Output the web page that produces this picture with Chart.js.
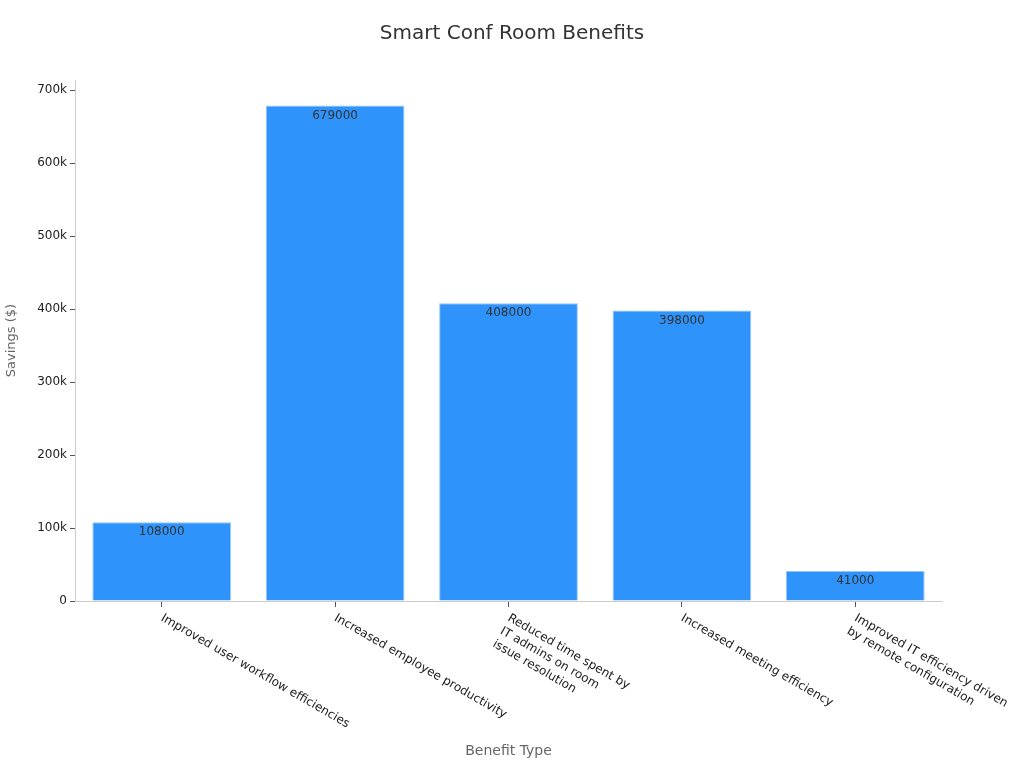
<!DOCTYPE html>
<html>
<head>
<meta charset="utf-8">
<script src="https://cdn.jsdelivr.net/npm/chart.js@4/dist/chart.umd.min.js"></script>
<style>
  html, body { margin: 0; padding: 0; background: #fff; }
  #wrap { width: 1024px; height: 768px; }
</style>
</head>
<body>
<div id="wrap"><canvas id="chart" width="1024" height="768"></canvas></div>
<script>
// Benefit categories (multi-line labels as arrays)
const categories = [
    ['Improved user workflow efficiencies'],
    ['Increased employee productivity'],
    ['Reduced time spent by', 'IT admins on room', 'issue resolution'],
    ['Increased meeting efficiency'],
    ['Improved IT efficiency driven', 'by remote configuration']
];
const savings = [108000, 679000, 408000, 398000, 41000];
const yTicks = [0, 100000, 200000, 300000, 400000, 500000, 600000, 700000];
const yMax = 714000;

const FONT = 'DejaVu Sans';
const TITLE = 'Smart Conf Room Benefits';

// chart title centred on the whole canvas
const canvasTitle = {
    id: 'canvasTitle',
    afterDraw(chart) {
        const ctx = chart.ctx;
        ctx.save();
        ctx.font = '20px "' + FONT + '"';
        ctx.fillStyle = '#333';
        ctx.textAlign = 'center';
        ctx.textBaseline = 'middle';
        ctx.fillText(TITLE, chart.width / 2, 34);
        ctx.restore();
    }
};

// draws x labels rotated clockwise, starting at the tick
const rotatedLabels = {
    id: 'rotatedLabels',
    afterDraw(chart) {
        const ctx = chart.ctx;
        const xs = chart.scales.x;
        const top = chart.chartArea.bottom + 11;
        const ang = Math.PI / 6;
        ctx.save();
        ctx.font = '12px "' + FONT + '"';
        ctx.fillStyle = '#222';
        ctx.textAlign = 'left';
        ctx.textBaseline = 'top';
        categories.forEach((lines, i) => {
            const x = xs.getPixelForValue(i) + 3;
            ctx.save();
            ctx.translate(x, top);
            ctx.rotate(ang);
            lines.forEach((line, j) => ctx.fillText(line, 0, j * 15));
            ctx.restore();
        });
        ctx.restore();
    }
};

// value labels just inside the top of each bar
const barValues = {
    id: 'barValues',
    afterDatasetsDraw(chart) {
        const ctx = chart.ctx;
        const meta = chart.getDatasetMeta(0);
        ctx.save();
        ctx.font = '12px "' + FONT + '"';
        ctx.fillStyle = '#333';
        ctx.textAlign = 'center';
        ctx.textBaseline = 'middle';
        meta.data.forEach((bar, i) => {
            ctx.fillText(String(savings[i]), bar.x, bar.y + 10);
        });
        ctx.restore();
    }
};

new Chart(document.getElementById('chart'), {
    type: 'bar',
    data: {
        labels: categories.map(l => l.join(' ')),
        datasets: [{
            label: 'Savings ($)',
            data: savings,
            backgroundColor: '#2e93fa',
            borderColor: '#92c6f8',
            borderWidth: 1,
            categoryPercentage: 0.8,
            barPercentage: 1
        }]
    },
    options: {
        responsive: false,
        animation: false,
        layout: { padding: { left: 0, right: 82, top: 80, bottom: 0 } },
        plugins: {
            legend: { display: false },
            tooltip: { enabled: false },
            title: { display: false }
        },
        scales: {
            x: {
                offset: true,
                grid: {
                    display: true,
                    drawOnChartArea: false,
                    drawTicks: true,
                    tickLength: 6,
                    tickColor: '#555',
                    offset: false
                },
                border: { display: true, color: '#ccc' },
                ticks: { display: false },
                title: {
                    display: true,
                    text: 'Benefit Type',
                    color: '#666',
                    font: { family: FONT, size: 14 },
                    padding: { top: 4, bottom: 8 }
                },
                afterFit(s) { s.height = 167; }
            },
            y: {
                min: 0,
                max: yMax,
                afterBuildTicks(s) { s.ticks = yTicks.map(v => ({ value: v })); },
                grid: {
                    display: true,
                    drawOnChartArea: false,
                    drawTicks: true,
                    tickLength: 5,
                    tickColor: '#555'
                },
                border: { display: true, color: '#ccc' },
                ticks: {
                    color: '#222',
                    padding: 3,
                    font: { family: FONT, size: 12 },
                    callback: v => v === 0 ? '0' : (v / 1000) + 'k'
                },
                title: {
                    display: true,
                    text: 'Savings ($)',
                    color: '#666',
                    font: { family: FONT, size: 13 },
                    padding: { top: 4, bottom: 5 }
                },
                afterFit(s) { s.width = 75; }
            }
        }
    },
    plugins: [canvasTitle, rotatedLabels, barValues]
});
</script>
</body>
</html>
